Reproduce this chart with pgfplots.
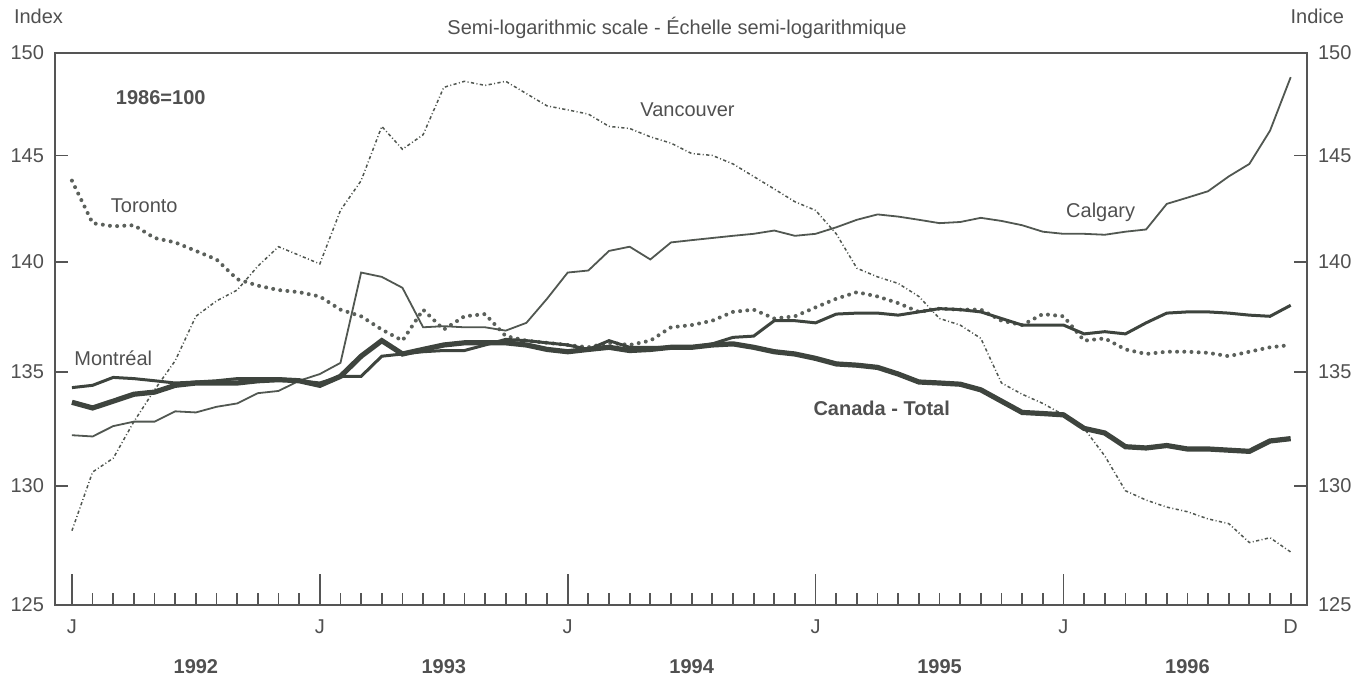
\documentclass[border=0pt]{standalone}
\usepackage{fontspec}
\setmainfont{Liberation Sans}
\usepackage{pgfplots}
\pgfplotsset{compat=1.18}
\usepackage{pgfplotstable}
\definecolor{ln}{RGB}{62,68,62}
\definecolor{tx}{RGB}{80,80,80}
\definecolor{ax}{RGB}{85,85,85}
\pgfplotsset{every axis/.append style={/pgf/number format/assume math mode=true}}
\pgfplotstableread{
m van tor cal mon can
0 128.1 143.8 132.2 134.3 133.65
1 130.6 141.8 132.15 134.4 133.4
2 131.2 141.65 132.6 134.75 133.7
3 132.8 141.7 132.8 134.7 134.0
4 134.2 141.1 132.8 134.6 134.1
5 135.5 140.9 133.25 134.5 134.4
6 137.5 140.5 133.2 134.55 134.5
7 138.2 140.1 133.45 134.6 134.5
8 138.7 139.2 133.6 134.7 134.5
9 139.8 138.9 134.05 134.7 134.6
10 140.7 138.7 134.15 134.7 134.65
11 140.3 138.6 134.6 134.6 134.6
12 139.9 138.4 134.9 134.5 134.4
13 142.4 137.8 135.4 134.8 134.8
14 143.8 137.5 139.5 134.8 135.7
15 146.4 136.9 139.3 135.7 136.4
16 145.3 136.4 138.8 135.8 135.8
17 146.0 137.8 137.0 135.9 136.0
18 148.3 136.9 137.05 135.95 136.2
19 148.6 137.5 137.0 135.95 136.3
20 148.4 137.6 137.0 136.2 136.3
21 148.6 136.6 136.85 136.45 136.3
22 148.0 136.4 137.2 136.4 136.2
23 147.4 136.3 138.3 136.3 136.0
24 147.2 136.2 139.5 136.2 135.9
25 147.0 136.1 139.6 136.0 136.0
26 146.4 136.3 140.5 136.4 136.1
27 146.3 136.2 140.7 136.1 135.95
28 145.9 136.4 140.1 136.1 136.0
29 145.6 137.0 140.9 136.1 136.1
30 145.1 137.1 141.0 136.1 136.1
31 145.0 137.3 141.1 136.25 136.2
32 144.6 137.7 141.2 136.55 136.25
33 144.0 137.8 141.3 136.6 136.1
34 143.4 137.4 141.45 137.3 135.9
35 142.8 137.5 141.2 137.3 135.8
36 142.4 137.9 141.3 137.2 135.6
37 141.3 138.3 141.6 137.6 135.35
38 139.7 138.6 141.95 137.65 135.3
39 139.3 138.4 142.2 137.65 135.2
40 139.0 138.1 142.1 137.55 134.9
41 138.4 137.7 141.95 137.7 134.55
42 137.4 137.85 141.8 137.85 134.5
43 137.1 137.8 141.85 137.8 134.45
44 136.5 137.8 142.05 137.7 134.2
45 134.5 137.3 141.9 137.4 133.7
46 134.0 137.1 141.7 137.1 133.2
47 133.6 137.6 141.4 137.1 133.15
48 133.1 137.5 141.3 137.1 133.1
49 132.5 136.4 141.3 136.7 132.5
50 131.3 136.5 141.25 136.8 132.3
51 129.8 136.0 141.4 136.7 131.7
52 129.4 135.8 141.5 137.2 131.65
53 129.1 135.9 142.7 137.65 131.75
54 128.9 135.9 143.0 137.7 131.6
55 128.6 135.85 143.3 137.7 131.6
56 128.4 135.7 144.0 137.65 131.55
57 127.6 135.9 144.6 137.55 131.5
58 127.8 136.1 146.2 137.5 131.95
59 127.2 136.2 148.8 138.0 132.05
}\data
\begin{document}
\begin{tikzpicture}[font=\fontsize{10}{12}\selectfont, text=tx]
\useasboundingbox (-27.5pt,-38.5pt) rectangle (657.5pt,302.5pt);
% data axis with x ticks
\begin{axis}[at={(0,0)}, anchor=south west, scale only axis,
  width=626pt, height=276pt, ymode=log, ymin=125, ymax=150,
  xmin=-0.82, xmax=59.79, axis line style={ax, line width=1pt},
  tick style={ax, line width=0.9pt},
  minor tick style={ax, line width=0.9pt},
  ticklabel style={text=tx, font=\fontsize{10}{12}\selectfont},
  ytick=\empty, xtick pos=bottom,
  xtick={0,12,24,36,48}, xticklabels={J,J,J,J,J},
  minor xtick={1,...,59},
  major tick length=15.5pt, minor tick length=6pt, tick align=inside,
  xticklabel style={yshift=-4pt},
  clip=false]
\addplot[ln!90, line width=0.75pt, dash pattern=on 1.6pt off 1.2pt on 0.5pt off 1.2pt] table[x=m,y=van] {\data};
\addplot[ln!85, line width=2pt, line cap=round, dash pattern=on 0pt off 3.6pt] table[x=m,y=tor] {\data};
\addplot[ln!90, line width=0.9pt] table[x=m,y=cal] {\data};
\addplot[ln, line width=1.5pt] table[x=m,y=mon] {\data};
\addplot[ln, line width=2.6pt] table[x=m,y=can] {\data};
\node[font=\fontsize{10}{12}\selectfont\bfseries] at (axis cs:4.3,147.8) {1986=100};
\node at (axis cs:29.8,147.2) {Vancouver};
\node at (axis cs:3.5,142.6) {Toronto};
\node at (axis cs:49.8,142.3) {Calgary};
\node at (axis cs:2.0,135.6) {Montréal};
\node[font=\fontsize{10}{12}\selectfont\bfseries] at (axis cs:39.2,133.4) {Canada - Total};
\end{axis}
% D label at the last month
\begin{axis}[at={(0,0)}, anchor=south west, scale only axis,
  width=626pt, height=276pt, ymin=125, ymax=150,
  xmin=-0.82, xmax=59.79, axis line style={ax, line width=1pt},
  tick style={ax, line width=0.9pt},
  ticklabel style={text=tx, font=\fontsize{10}{12}\selectfont},
  ytick=\empty, xtick pos=bottom, xtick={59}, xticklabels={D},
  major tick length=6pt, tick align=inside, xticklabel style={yshift=-4pt}]
\end{axis}
% left/right y ticks, labels left
\begin{axis}[at={(0,0)}, anchor=south west, scale only axis,
  width=626pt, height=276pt, ymode=log, ymin=125, ymax=150,
  xmin=-0.82, xmax=59.79, axis line style={ax, line width=1pt},
  tick style={ax, line width=0.9pt},
  ticklabel style={text=tx, font=\fontsize{10}{12}\selectfont},
  xtick=\empty, ytick={125,130,135,140,145,150},
  yticklabels={125,130,135,140,145,150}, ytick pos=both, yticklabel pos=left,
  major tick length=6.5pt, tick align=inside, yticklabel style={xshift=-2pt}]
\end{axis}
% right labels
\begin{axis}[at={(0,0)}, anchor=south west, scale only axis,
  width=626pt, height=276pt, ymode=log, ymin=125, ymax=150,
  xmin=-0.82, xmax=59.79, axis line style={ax, line width=1pt},
  tick style={ax, line width=0.9pt},
  ticklabel style={text=tx, font=\fontsize{10}{12}\selectfont},
  xtick=\empty, ytick={125,130,135,140,145,150},
  yticklabels={125,130,135,140,145,150}, ytick pos=right, yticklabel pos=right,
  major tick length=0pt, yticklabel style={xshift=2pt}]
\end{axis}
\foreach \yr/\xx in {1992/6,1993/18,1994/30,1995/42,1996/54} {
  \node[font=\fontsize{10}{12}\selectfont\bfseries] at ({(\xx+0.82)*10.3283pt},-31pt) {\yr};
}
\node[anchor=west] at (-24pt,294.5pt) {Index};
\node[anchor=east] at (648pt,294.5pt) {Indice};
\node at (311pt,288.5pt) {Semi-logarithmic scale - Échelle semi-logarithmique};
\end{tikzpicture}
\end{document}
